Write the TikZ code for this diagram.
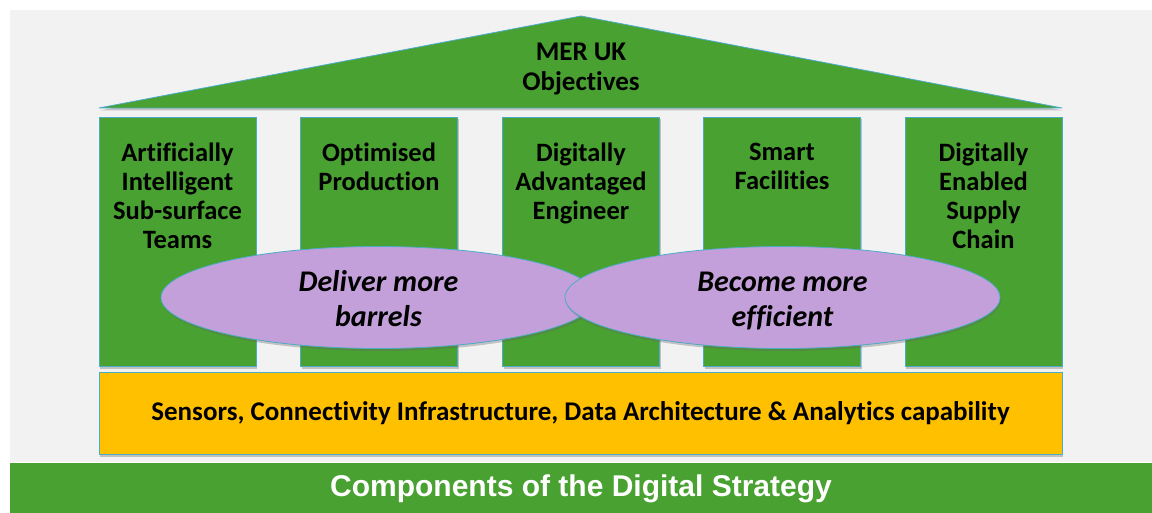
\documentclass[tikz,border=0pt]{standalone}
\usepackage{fontspec}
\setmainfont{Carlito}[Ligatures=NoCommon]
\newfontfamily\bannerfont{Liberation Sans}
\usetikzlibrary{shapes, shadows, positioning}
\definecolor{merGreen}{RGB}{72,161,48}
\definecolor{merTeal}{RGB}{75,172,198}
\definecolor{merPurple}{RGB}{195,160,218}
\definecolor{merYellow}{RGB}{255,192,0}
\definecolor{merGray}{RGB}{242,242,242}

\begin{document}
\begin{tikzpicture}[x=1pt, y=-1pt,
    softshadow/.style={drop shadow={shadow xshift=1pt, shadow yshift=-2.5pt, opacity=0.35, fill=black!60}},
    pillar/.style={draw=merTeal, line width=0.8pt, fill=merGreen, minimum width=157pt, minimum height=249pt, inner sep=0pt, softshadow},
    pillartext/.style={anchor=north, align=center, inner sep=0pt, font=\fontsize{26.5}{29}\selectfont\bfseries},
    goal/.style={ellipse, draw=merTeal, line width=0.8pt, fill=merPurple, minimum width=435pt, minimum height=102pt, inner sep=0pt, softshadow},
    goaltext/.style={align=center, inner sep=0pt, font=\fontsize{30}{35}\selectfont\bfseries\itshape}
]
    \useasboundingbox (0,0) rectangle (1152,513);
    \fill[white] (0,0) rectangle (1152,513);
    \fill[merGray] (10,10) rectangle (1152,462);

    % roof
    \draw[draw=merTeal, line width=0.8pt, fill=merGreen, softshadow] (99,108) -- (581,16) -- (1062,108) -- cycle;
    \node [align=center, font=\fontsize{27}{30}\selectfont\bfseries] (roof) at (581,69.5) { MER UK\\Objectives };

    % pillars
    \node [pillar] (p1) at (177.5,241.5) {};
    \node [pillar] (p2) at (379,241.5)   {};
    \node [pillar] (p3) at (581,241.5)   {};
    \node [pillar] (p4) at (782,241.5)   {};
    \node [pillar] (p5) at (983.5,241.5) {};

    \node [pillartext, below=26pt of p1.north] (t1) { Artificially\\Intelligent\\Sub-surface\\Teams };
    \node [pillartext, below=26pt of p2.north] (t2) { Optimised\\Production };
    \node [pillartext, below=26pt of p3.north] (t3) { Digitally\\Advantaged\\Engineer };
    \node [pillartext, below=26pt of p4.north] (t4) { Smart\\Facilities };
    \node [pillartext, below=26pt of p5.north] (t5) { Digitally\\Enabled\\Supply\\Chain };

    % ellipses
    \node [goal] (barrels)   at (378.5,297.5) {};
    \node [goal] (efficient) at (782.5,297.5) {};
    \node [goaltext] (barrelslbl)   at ([yshift=-3pt]barrels.center)   { Deliver more\\barrels\vphantom{f} };
    \node [goaltext] (efficientlbl) at ([yshift=-3pt]efficient.center) { \vphantom{l}Become more\\efficient };

    % foundation
    \node [draw=merTeal, line width=0.8pt, fill=merYellow, minimum width=963pt, minimum height=82pt, inner sep=0pt, softshadow,
           font=\fontsize{27}{30}\selectfont\bfseries] (infra) at (580.5,413)
          { Sensors, Connectivity Infrastructure, Data Architecture \& Analytics capability };

    \node [fill=merGreen, minimum width=1142pt, minimum height=51pt, inner sep=0pt, text=white,
           font=\bannerfont\fontsize{30}{33}\selectfont\bfseries] (strategy) at (581,488.5)
          { Components of the Digital Strategy };
\end{tikzpicture}
\end{document}
